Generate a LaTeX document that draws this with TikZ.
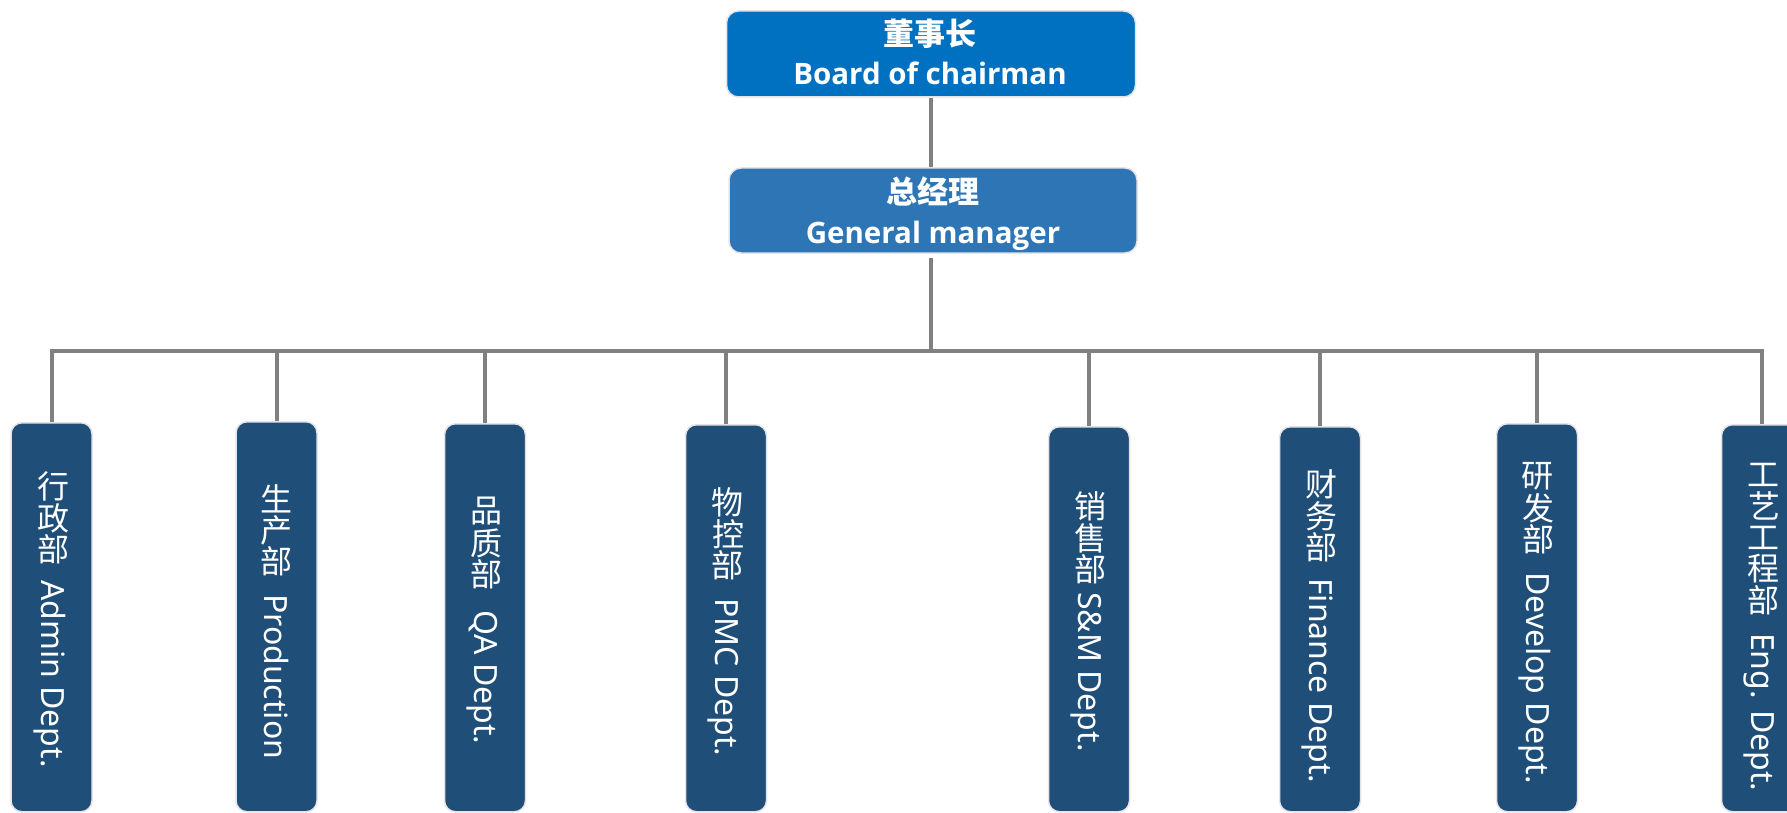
\documentclass[tikz,border=0pt]{standalone}
\usepackage{fontspec}
\setmainfont{Noto Sans}
\newfontfamily\cjk{Noto Sans CJK SC}
\newfontfamily\titlefont{Open Sans}
\usepackage{graphicx}
\definecolor{chairblue}{HTML}{0070C0}
\definecolor{gmblue}{HTML}{2E75B6}
\definecolor{deptblue}{HTML}{1F4E79}
\definecolor{linegray}{HTML}{808080}
\definecolor{edgegray}{HTML}{E4E4E8}
\newcommand{\vc}[1]{\makebox[31.5pt][c]{\rotatebox[origin=c]{90}{\cjk #1}}}
\tikzset{
  topbox/.style={rectangle, rounded corners=12pt, draw=edgegray, line width=1.5pt, inner sep=0pt},
  deptbox/.style={rectangle, rounded corners=11pt, draw=edgegray, line width=1.5pt, fill=deptblue,
    minimum width=81pt, minimum height=#1, anchor=north, inner sep=0pt},
  cjktitle/.style={text=white, inner sep=0pt, font=\cjk\bfseries\fontsize{31}{31}\selectfont},
  entitle/.style={text=white, inner sep=0pt, anchor=base, font=\titlefont\bfseries\fontsize{29.5}{29.5}\selectfont},
  depttext/.style={text=white, inner sep=0pt, rotate=-90, anchor=west, font=\fontsize{32}{32}\selectfont},
  conn/.style={draw=linegray, line width=4pt}
}
\begin{document}
\begin{tikzpicture}[x=1pt,y=-1pt]
\useasboundingbox (0,0) rectangle (1787,813);
\clip (0,0) rectangle (1787,813);
% top boxes
\node[topbox, fill=chairblue, minimum width=409pt, minimum height=86pt] (chair) at (931,54) {};
\node[topbox, fill=gmblue, minimum width=408pt, minimum height=85pt] (gm) at (933,210.5) {};
\node[cjktitle] (chairzh) at (930,34) {董事长};
\node[entitle] (chairen) at (930,85) {Board of chairman};
\node[cjktitle] (gmzh) at (933,191) {总经理};
\node[entitle] (gmen) at (933,243) {General manager};
% departments
\node[deptbox=389pt] (d1) at (51.5,422) {};
\node[deptbox=390pt] (d2) at (276.5,421) {};
\node[deptbox=388pt] (d3) at (485,423) {};
\node[deptbox=387pt] (d4) at (726,424) {};
\node[deptbox=385pt] (d5) at (1089,426) {};
\node[deptbox=385pt] (d6) at (1320,426) {};
\node[deptbox=388pt] (d7) at (1537,423) {};
\node[deptbox=387pt] (d8) at (1762,424) {};
\node[depttext] (t1) at (51.5,470.5) {\vc{行}\vc{政}\vc{部}\hspace{15pt}Admin Dept.};
\node[depttext] (t2) at (276.5,482.5) {\vc{生}\vc{产}\vc{部}\hspace{17pt}Production};
\node[depttext] (t3) at (485,495.5) {\vc{品}\vc{质}\vc{部}\hspace{20pt}QA Dept.};
\node[depttext] (t4) at (726,486.5) {\vc{物}\vc{控}\vc{部}\hspace{17pt}PMC Dept.};
\node[depttext] (t5) at (1089,490.5) {\vc{销}\vc{售}\vc{部}\hspace{7pt}S\&M Dept.};
\node[depttext] (t6) at (1320,468.5) {\vc{财}\vc{务}\vc{部}\hspace{15pt}Finance Dept.};
\node[depttext] (t7) at (1537,460.5) {\vc{研}\vc{发}\vc{部}\hspace{17pt}Develop Dept.};
\node[depttext] (t8) at (1762,458.5) {\vc{工}\vc{艺}\vc{工}\vc{程}\vc{部}\hspace{17pt}Eng. Dept.};
% connectors
\coordinate (bus) at (931,351);
\draw[conn] (chair.south) -- (chair.south |- gm.north);
\draw[conn, shorten <=4pt] (chair.south |- gm.south) -- (bus);
\foreach \d in {d1,d2,d3,d4,d5,d6,d7,d8}{
  \draw[conn] (\d.north) |- (bus);
}
\end{tikzpicture}
\end{document}
